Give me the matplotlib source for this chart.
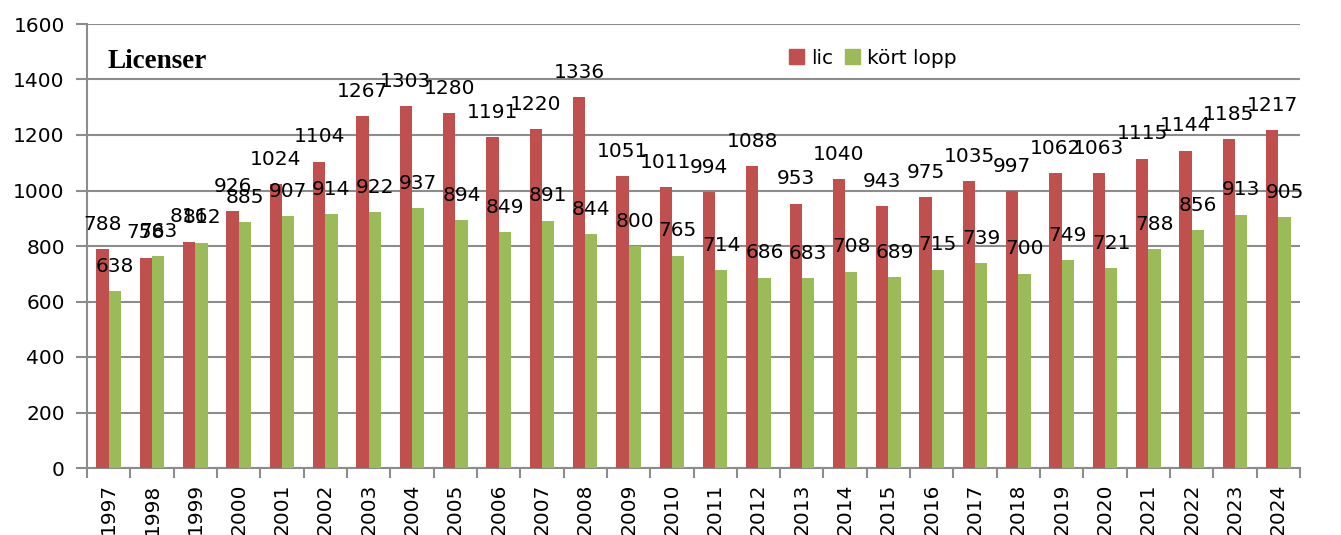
import matplotlib
matplotlib.use("Agg")
import matplotlib.pyplot as plt
from matplotlib.patches import Patch
import numpy as np

years = [str(y) for y in range(1997, 2025)]
lic = [788, 758, 816, 926, 1024, 1104, 1267, 1303, 1280, 1191, 1220, 1336, 1051, 1011,
       994, 1088, 953, 1040, 943, 975, 1035, 997, 1062, 1063, 1115, 1144, 1185, 1217]
kort = [638, 763, 812, 885, 907, 914, 922, 937, 894, 849, 891, 844, 800, 765,
        714, 686, 683, 708, 689, 715, 739, 700, 749, 721, 788, 856, 913, 905]
yticks = [0, 200, 400, 600, 800, 1000, 1200, 1400, 1600]

RED = "#C0504D"
GREEN = "#9BBB59"
GRID = "#8C8C8C"

fig = plt.figure(figsize=(13.41, 5.35), dpi=100)
ax = fig.add_axes([87/1341, 1-468/535, (1300-87)/1341, (468-24)/535])

x = np.arange(len(years))
w = 0.284
b1 = ax.bar(x - w/2, lic, w, color=RED, zorder=3)
b2 = ax.bar(x + w/2, kort, w, color=GREEN, zorder=3)
ax.bar_label(b1, labels=[str(v) for v in lic], padding=11, fontsize=14.5, zorder=5)
ax.bar_label(b2, labels=[str(v) for v in kort], padding=11, fontsize=14.5, zorder=5)

ax.set_xlim(-0.5, len(years) - 0.5)
ax.set_ylim(0, 1600)
ax.set_yticks(yticks)
ax.set_yticklabels([str(t) for t in yticks], fontsize=14.5)
ax.yaxis.grid(True, color=GRID, lw=1.5, zorder=0)
ax.set_axisbelow(True)

ax.set_xticks(x)
ax.set_xticklabels(years, rotation=90, fontsize=14.5, va='top')
ax.set_xticks(np.arange(-0.5, len(years)), minor=True)
ax.tick_params(axis='x', which='major', length=0, pad=11)
ax.tick_params(axis='x', which='minor', length=7, color=GRID, width=1.5)
ax.tick_params(axis='y', length=8, color=GRID, width=1.5, pad=8)

for s in ['top', 'right']:
    ax.spines[s].set_visible(False)
for s in ['left', 'bottom']:
    ax.spines[s].set_color(GRID)
    ax.spines[s].set_linewidth(1.5)

fig.text(108/1341, 1-68/535, "Licenser", family="Liberation Serif", fontweight="bold",
         fontsize=19.5, va="baseline", ha="left")

handles = [Patch(color=RED, label="lic"), Patch(color=GREEN, label="kört lopp")]
fig.legend(handles=handles, loc="center left", bbox_to_anchor=(789/1341, 1-58/535),
           ncol=2, frameon=False, fontsize=14.5, handlelength=0.75, handleheight=0.75,
           handletextpad=0.35, columnspacing=0.6, borderpad=0, borderaxespad=0)

fig.savefig("out.png", dpi=100)
